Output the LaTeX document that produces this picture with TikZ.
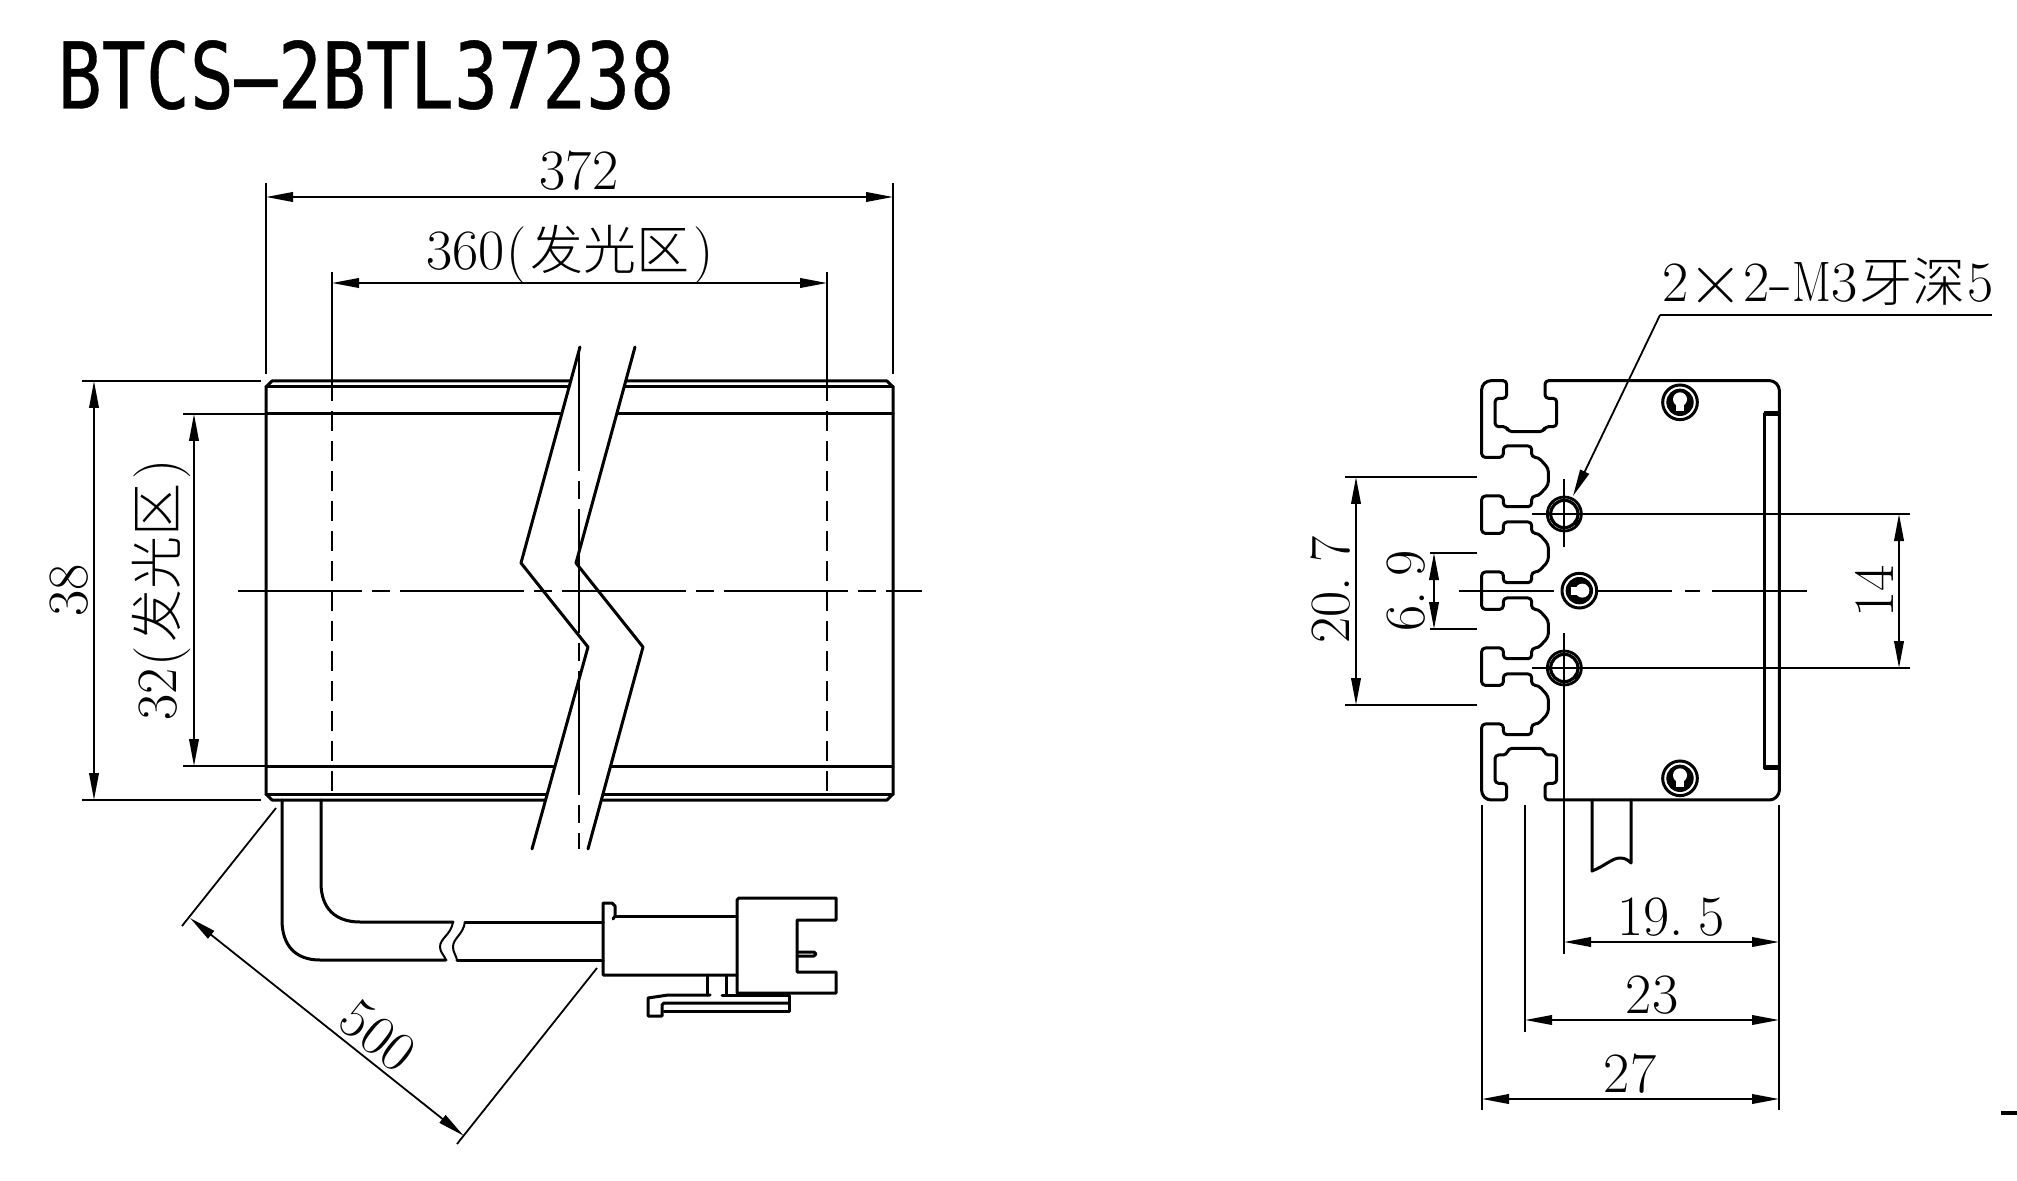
\documentclass[tikz,border=0pt]{standalone}
\usepackage{fontspec}
\usepackage{graphicx}
\usetikzlibrary{arrows.meta}
\newfontfamily\cjk{Noto Sans CJK SC Light}
\newfontfamily\titlef[FakeBold=0.45]{DejaVu Sans Mono}
\newcommand{\dimfont}{\fontsize{28.5}{30}\selectfont}
\newcommand{\lightzh}[1]{{\cjk\fontsize{26.5}{30}\selectfont #1}}
\tikzset{
  main/.style={line width=1.5pt,line join=round,line cap=round},
  thin line/.style={line width=0.9pt},
  dimline/.style={line width=0.9pt,{Stealth[length=13.5pt,width=4.8pt,inset=0pt]}-{Stealth[length=13.5pt,width=4.8pt,inset=0pt]}},
  leaderline/.style={line width=0.9pt,-{Stealth[length=13.5pt,width=4.8pt,inset=0pt]}},
  centre/.style={line width=0.9pt,dash pattern=on 62pt off 5pt on 9pt off 5pt},
  hidden/.style={line width=0.9pt,dash pattern=on 10pt off 5pt},
  dimtext/.style={font=\dimfont,inner sep=0pt,text=black},
}
\newcommand{\screwhead}[3]{%
  \begin{scope}[shift={(#1,#2)},rotate=#3]
    \draw[line width=1.5pt] (0,0) circle[radius=52];
    \fill[black] (0,0) circle[radius=41];
    \fill[white] (0,-9) circle[radius=21];
    \fill[white] (-12,-5) rectangle (12,25);
  \end{scope}}
\newcommand{\mhole}[2]{%
  \begin{scope}[shift={(#1,#2)}]
    \draw[line width=1.4pt] (0,0) circle[radius=51];
    \draw[line width=1.6pt] (0,0) circle[radius=41];
    \fill[black] (18,36) -- (50,12) -- (44,30) -- cycle;
  \end{scope}}
\begin{document}
\begin{tikzpicture}[x=0.5pt,y=-0.5pt]
\useasboundingbox (0,0) rectangle (2017,1181);
% title
\node[inner sep=0pt,anchor=center] (title) at (366,75)
  {\scalebox{0.795}[1]{\titlef\fontsize{46}{50}\selectfont BTCS\makebox[0.602em]{\scalebox{2.3}[1]{-}}2BTL37238}};

% ---------- left view
\draw[main] (272,381) -- (887,381) -- (893,387) -- (893,794) -- (887,800) -- (272,800) -- (266,794) -- (266,387) -- cycle;
\draw[main] (266,387) -- (893,387);
\draw[main] (266,414) -- (893,414);
\draw[main] (266,766) -- (893,766);
\draw[main] (266,794) -- (893,794);
\draw[hidden] (332,381) -- (332,800);
\draw[hidden] (827,381) -- (827,800);
% break
\fill[white] (580,347) -- (521,563) -- (588,647) -- (532,849) -- (588,849) -- (643,647) -- (576,563) -- (635,347) -- cycle;
\draw[centre] (579,347) -- (579,849);
\draw[centre] (238,591) -- (922,591);
\draw[main] (580,347) -- (521,563) -- (588,647) -- (532,849);
\draw[main] (635,347) -- (576,563) -- (643,647) -- (588,849);

% dimensions of left view
\draw[thin line] (266,183) -- (266,374);
\draw[thin line] (893,183) -- (893,374);
\draw[dimline] (266,197) -- (893,197);
\node[dimtext] (d372) at (579,171) {372};
\draw[thin line] (332,272) -- (332,381);
\draw[thin line] (827,272) -- (827,381);
\draw[dimline] (332,283) -- (827,283);
\node[dimtext] (d360) at (570,254) {360\kern1pt(\kern2pt\lightzh{发光区}\kern2pt)};
\draw[thin line] (82,381) -- (261,381);
\draw[thin line] (82,800) -- (261,800);
\draw[dimline] (94,381) -- (94,800);
\node[dimtext,rotate=90] (d38) at (69,590) {38};
\draw[thin line] (183,414) -- (266,414);
\draw[thin line] (183,766) -- (266,766);
\draw[dimline] (194,414) -- (194,766);
\node[dimtext,rotate=90] (d32) at (161,590) {32\kern1pt(\kern2pt\lightzh{发光区}\kern2pt)};

% cable
\draw[main] (282,800) -- (282,920) .. controls (282,945) and (295,960) .. (320,960) -- (446,960);
\draw[main] (321,800) -- (321,883) .. controls (321,908) and (335,922) .. (360,922) -- (453,922);
\draw[main,line width=1pt] (453,922) .. controls (451,935) and (440,938) .. (440,947) .. controls (440,952) and (444,955) .. (446,960);
\draw[main,line width=1pt] (465,922) .. controls (463,935) and (453,938) .. (453,947) .. controls (453,952) and (456,955) .. (457,960);
\draw[main] (465,922) -- (603,922);
\draw[main] (457,960) -- (603,960);
% connector
\draw[main] (613,919) -- (615,916) -- (615,906) -- (612,903) -- (603,903) -- (603,975) -- (737,975);
\draw[main] (615,916) -- (737,916);
\draw[main] (737,993) -- (737,900) -- (739,898) -- (836,898) -- (836,920) -- (797,920) -- (797,972) -- (836,972) -- (836,993) -- (737,993);
\draw[main] (797,952) -- (814,952) -- (816,954) -- (814,956) -- (797,956);
\draw[main] (707,975) -- (707,995);
\draw[main] (726,975) -- (726,995);
\draw[main] (710,995) -- (668,995) -- (648,998) -- (648,1016) -- (662,1016) -- (662,1005) -- (664,1003) -- (789,1003);
\draw[main] (722,995) -- (789,995) -- (789,1011) -- (664,1011);
% 500
\draw[thin line] (276,808) -- (182,926);
\draw[thin line] (597,968) -- (457,1144);
\draw[dimline] (190,918) -- (463.6,1135.7);
\node[dimtext,rotate=-38.5] (d500) at (378,1036) {500};

% ---------- right view (drawn in 3x crop units)
\begin{scope}[shift={(1440,360)},scale=1/3]
\draw[main,rounded corners=1.8pt]
  (315,62) -- (1000,62) -- (1018,80) -- (1018,1302) -- (1000,1320) -- (315,1320)
  -- (315,1270) -- (350,1270) -- (350,1185) -- (315,1185) -- (310,1165) -- (205,1165) -- (200,1185)
  -- (165,1185) -- (165,1270) -- (200,1270) -- (200,1320) -- (142,1320) -- (125,1303)
  -- (125,1092) -- (190,1092) -- (190,1124) -- (275,1124) -- (275,1092) -- (295,1092) -- (325,1059) -- (325,1009) -- (295,976) -- (275,976) -- (275,942) -- (190,942) -- (190,976)
  -- (125,976) -- (125,864) -- (190,864) -- (190,896) -- (275,896) -- (275,864) -- (295,864) -- (325,831) -- (325,781) -- (295,748) -- (275,748) -- (275,714) -- (190,714) -- (190,748)
  -- (125,748) -- (125,636) -- (190,636) -- (190,668) -- (275,668) -- (275,636) -- (295,636) -- (325,603) -- (325,553) -- (295,520) -- (275,520) -- (275,486) -- (190,486) -- (190,520)
  -- (125,520) -- (125,408) -- (190,408) -- (190,440) -- (275,440) -- (275,408) -- (295,408) -- (325,375) -- (325,325) -- (295,292) -- (275,292) -- (275,258) -- (190,258) -- (190,292)
  -- (125,292) -- (125,78) -- (142,62) -- (200,62) -- (200,115) -- (165,115) -- (165,200) -- (200,200) -- (205,215) -- (310,215) -- (315,200) -- (350,200) -- (350,115) -- (315,115) -- cycle;
% strip
\draw[main] (972,1225) -- (972,160) -- (1018,160);
\draw[line width=2.4pt] (972,161) -- (1018,161);
\draw[line width=2.4pt] (972,1222) -- (1018,1222);
% screws
\screwhead{720}{127}{0}
\screwhead{720}{1255}{0}
\screwhead{418}{692}{270}
% threaded holes
\mhole{373}{462}
\mhole{373}{924}
% centre lines
\draw[thin line] (373,358) -- (373,562);
\draw[thin line] (373,820) -- (373,1782);
\draw[thin line] (275,462) -- (1410,462);
\draw[thin line] (275,924) -- (1410,924);
\draw[thin line] (57,692) -- (342,692);
\draw[thin line] (475,692) -- (695,692);
\draw[thin line] (735,692) -- (780,692);
\draw[thin line] (815,692) -- (1101,692);
\end{scope}

% right view dimensions
\coordinate (holeTip) at (1573,496);
\coordinate (leaderKnee) at (1660,315);
\coordinate (leaderEnd) at (1992,315);
\draw[thin line] (leaderEnd) -- (leaderKnee);
\draw[leaderline] (leaderKnee) -- (holeTip);
\node[dimtext] (dthread) at (1828,282) {2\raisebox{-0.05em}{\fontsize{38}{30}\selectfont ×}2\scalebox{1.35}[1]{-}\scalebox{0.8}[1]{M}3\kern1pt\lightzh{牙深}\kern1pt 5};
\draw[dimline] (1899,514) -- (1899,668);
\node[dimtext,rotate=90] (d14) at (1874,591) {14};
\draw[thin line] (1345,477) -- (1477,477);
\draw[thin line] (1345,705) -- (1477,705);
\draw[dimline] (1356,477) -- (1356,705);
\node[dimtext,rotate=90] (d207) at (1331,590) {20.\kern0.25em 7};
\draw[thin line] (1430,553) -- (1477,553);
\draw[thin line] (1430,629) -- (1477,629);
\draw[dimline] (1434,553) -- (1434,629);
\node[dimtext,rotate=90] (d69) at (1406,591) {6.\kern0.25em 9};
% stub
\draw[main] (1592,800) -- (1592,871) .. controls (1605,866) and (1612,858) .. (1620,858) .. controls (1625,858) and (1628,860) .. (1631,863) -- (1631,800);
% bottom dims
\draw[thin line] (1482,805) -- (1482,1110);
\draw[thin line] (1525,805) -- (1525,1032);
\draw[thin line] (1779,805) -- (1779,1110);
\draw[dimline] (1564,942) -- (1779,942);
\node[dimtext] (d195) at (1671,917) {19.\kern0.25em 5};
\draw[dimline] (1525,1020) -- (1779,1020);
\node[dimtext] (d23) at (1652,995) {23};
\draw[dimline] (1482,1099) -- (1779,1099);
\node[dimtext] (d27) at (1630,1074) {27};
% stray mark at the right edge
\draw[line width=1.6pt] (2001,1113) -- (2017,1113);
\end{tikzpicture}
\end{document}
